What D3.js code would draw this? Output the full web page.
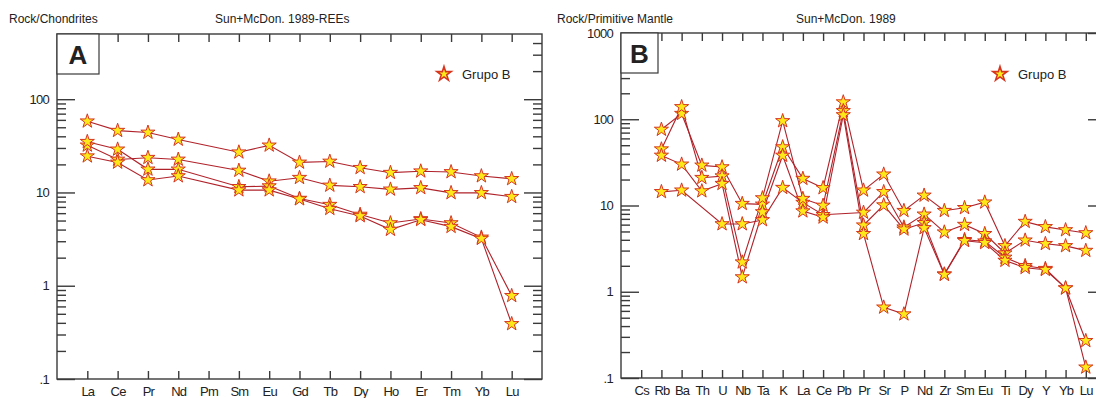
<!DOCTYPE html>
<html><head><meta charset="utf-8">
<script src="https://cdn.jsdelivr.net/npm/d3@7"></script>
<style>
body{margin:0;background:#fff;}
svg text{font-family:"Liberation Sans",Arial,sans-serif;fill:#222;}
</style></head>
<body><svg id="c" width="1096" height="398"></svg>
<script>
// ---- Panel A data (Rock/Chondrites) ----
const reeCats = ["La","Ce","Pr","Nd","Pm","Sm","Eu","Gd","Tb","Dy","Ho","Er","Tm","Yb","Lu"];
const reeS1 = [58, 46, 44, 37, null, 27, 32, 21, 21.5, 18.4, 16.3, 16.9, 16.6, 15, 14];
const reeS2 = [32, 22.6, 23.6, 22.6, null, 17.2, 13.2, 14.4, 11.9, 11.5, 10.8, 11.2, 9.9, 9.9, 9.0];
const reeS3 = [35, 29, 17.7, 17.7, null, 11.5, 11.7, 8.6, 7.4, 5.8, 4.7, 5.2, 4.7, 3.3, 0.78];
const reeS4 = [24.5, 21, 13.6, 15, null, 10.6, 10.6, 8.5, 6.7, 5.6, 4.0, 5.1, 4.3, 3.2, 0.39];
const reeTicks = [0.1, 1, 10, 100];

// ---- Panel B data (Rock/Primitive Mantle) ----
const pmCats = ["Cs","Rb","Ba","Th","U","Nb","Ta","K","La","Ce","Pb","Pr","Sr","P","Nd","Zr","Sm","Eu","Ti","Dy","Y","Yb","Lu"];
const pmS1 = [null, 76, 116, 29.2, 27.9, 10.5, 10.3, 47.6, 20.5, 16, 158, 15, 23, 8.7, 13.1, 8.7, 9.4, 10.9, 3.4, 6.5, 5.65, 5.2, 4.8];
const pmS2 = [null, 14.4, 15, null, 6.1, 6.1, 6.8, 16.1, 10.8, 7.8, null, 8.3, 14.4, 5.6, 7.9, 4.9, 6.0, 4.7, 2.8, 3.95, 3.6, 3.4, 3.0];
const pmS3 = [null, 45, 139, 21, 21.9, 2.2, 12.2, 95.6, 12, 10, 125, 5.9, 10.1, 5.3, 6.3, 1.6, 4.0, 3.85, 2.5, 2.0, 1.85, 1.1, 0.27];
const pmS4 = [null, 38, 30, 14.7, 17.9, 1.48, 8.4, 38, 8.6, 7.3, 112, 4.7, 0.66, 0.55, 5.5, 1.58, 3.9, 3.7, 2.3, 1.9, 1.8, 1.1, 0.133];
const pmTicks = [0.1, 1, 10, 100, 1000];

const legendLabel = "Grupo B";

const svg = d3.select("#c");
const frameColor = "#3a3a3a";
const lineColor = "#b0222a";
const starFill = "#ffe81a";
const starStroke = "#d8351f";
const fmt = v => v === 0.1 ? ".1" : String(v);

function minorTicks(domain){
  const out = [];
  for (let e = -1; e < 4; e++) for (let m = 2; m <= 9; m++) {
    const v = m * Math.pow(10, e);
    if (v > domain[0] && v < domain[1]) out.push(+v.toPrecision(3));
  }
  return out;
}

function panel(o){
  const {cats, series, x0, x1, y0, y1, yDomain, majors, letter, boxW, title1, title1X, title2, title2X, legendX} = o;
  const g = svg.append("g");
  const x = d3.scalePoint().domain(cats).range([x0, x1]).padding(1);
  const y = d3.scaleLog().domain(yDomain).range([y1, y0]);
  const minors = minorTicks(yDomain);

  // titles
  g.append("text").attr("x", title1X).attr("y", 23).attr("font-size", 12).text(title1);
  g.append("text").attr("x", title2X).attr("y", 23).attr("font-size", 12).text(title2);

  // frame
  g.append("rect").attr("x", x0).attr("y", y0).attr("width", x1 - x0).attr("height", y1 - y0)
    .attr("fill", "none").attr("stroke", frameColor).attr("stroke-width", 1.4);

  const styleAxis = sel => { sel.select(".domain").remove(); sel.selectAll("line").attr("stroke", frameColor).attr("stroke-width", 1.4); };

  // left inward ticks
  g.append("g").attr("transform", `translate(${x0},0)`).call(d3.axisRight(y).tickValues(majors).tickSize(18).tickFormat("")).call(styleAxis);
  g.append("g").attr("transform", `translate(${x0},0)`).call(d3.axisRight(y).tickValues(minors).tickSize(9).tickFormat("")).call(styleAxis);
  // right inward ticks
  g.append("g").attr("transform", `translate(${x1},0)`).call(d3.axisLeft(y).tickValues(majors).tickSize(18).tickFormat("")).call(styleAxis);
  g.append("g").attr("transform", `translate(${x1},0)`).call(d3.axisLeft(y).tickValues(minors).tickSize(9).tickFormat("")).call(styleAxis);
  // left labels
  const lab = g.append("g").attr("transform", `translate(${x0 - 8},0)`).call(d3.axisLeft(y).tickValues(majors).tickSize(0).tickPadding(0).tickFormat(fmt));
  lab.select(".domain").remove();
  lab.selectAll("text").attr("font-size", 13).attr("font-family", "Liberation Sans, Arial, sans-serif").attr("fill", "#222").style("letter-spacing", "-0.7px");

  // top & bottom inward ticks
  g.append("g").attr("transform", `translate(0,${y0})`).call(d3.axisBottom(x).tickSize(8).tickFormat("")).call(styleAxis);
  g.append("g").attr("transform", `translate(0,${y1})`).call(d3.axisTop(x).tickSize(8).tickFormat("")).call(styleAxis);
  const bl = g.append("g").attr("transform", `translate(0,${y1})`).call(d3.axisBottom(x).tickSize(0).tickPadding(8));
  bl.select(".domain").remove();
  bl.selectAll("text").attr("font-size", 13).attr("font-family", "Liberation Sans, Arial, sans-serif").attr("fill", "#222").style("letter-spacing", "-0.8px");

  // letter box
  g.append("rect").attr("x", x0).attr("y", y0).attr("width", boxW).attr("height", 40)
    .attr("fill", "#fff").attr("stroke", frameColor).attr("stroke-width", 1.2);
  g.append("text").attr("x", x0 + boxW / 2).attr("y", y0 + 30).attr("text-anchor", "middle")
    .attr("font-size", 26).attr("font-weight", "bold").attr("fill", "#111").text(letter);

  // data
  const star = d3.symbol().type(d3.symbolStar).size(62);
  const line = d3.line().x(d => x(d.c)).y(d => y(d.v));
  const plot = g.append("g");
  series.forEach(s => {
    const pts = cats.map((c, i) => ({c, v: s[i]})).filter(d => d.v != null);
    plot.append("path").datum(pts).attr("d", line).attr("fill", "none").attr("stroke", lineColor).attr("stroke-width", 1.1);
  });
  series.forEach(s => {
    const pts = cats.map((c, i) => ({c, v: s[i]})).filter(d => d.v != null);
    plot.selectAll(null).data(pts).enter().append("path").attr("d", star)
      .attr("transform", d => `translate(${x(d.c)},${y(d.v)})`)
      .attr("fill", starFill).attr("stroke", starStroke).attr("stroke-width", 1);
  });

  // legend
  g.append("path").attr("d", d3.symbol().type(d3.symbolStar).size(64)())
    .attr("transform", `translate(${legendX},74)`).attr("fill", starFill).attr("stroke", starStroke).attr("stroke-width", 1.6);
  g.append("text").attr("x", legendX + 18).attr("y", 79).attr("font-size", 13).text(legendLabel);
}

panel({cats: reeCats, series: [reeS1, reeS2, reeS3, reeS4], x0: 57, x1: 542, y0: 34, y1: 379,
  yDomain: [0.1, 500], majors: reeTicks, letter: "A", boxW: 42,
  title1: "Rock/Chondrites", title1X: 9, title2: "Sun+McDon. 1989-REEs", title2X: 215, legendX: 444});

panel({cats: pmCats, series: [pmS1, pmS2, pmS3, pmS4], x0: 621, x1: 1106, y0: 33, y1: 378,
  yDomain: [0.1, 1000], majors: pmTicks, letter: "B", boxW: 37,
  title1: "Rock/Primitive Mantle", title1X: 557, title2: "Sun+McDon. 1989", title2X: 796, legendX: 1000});
</script></body></html>
